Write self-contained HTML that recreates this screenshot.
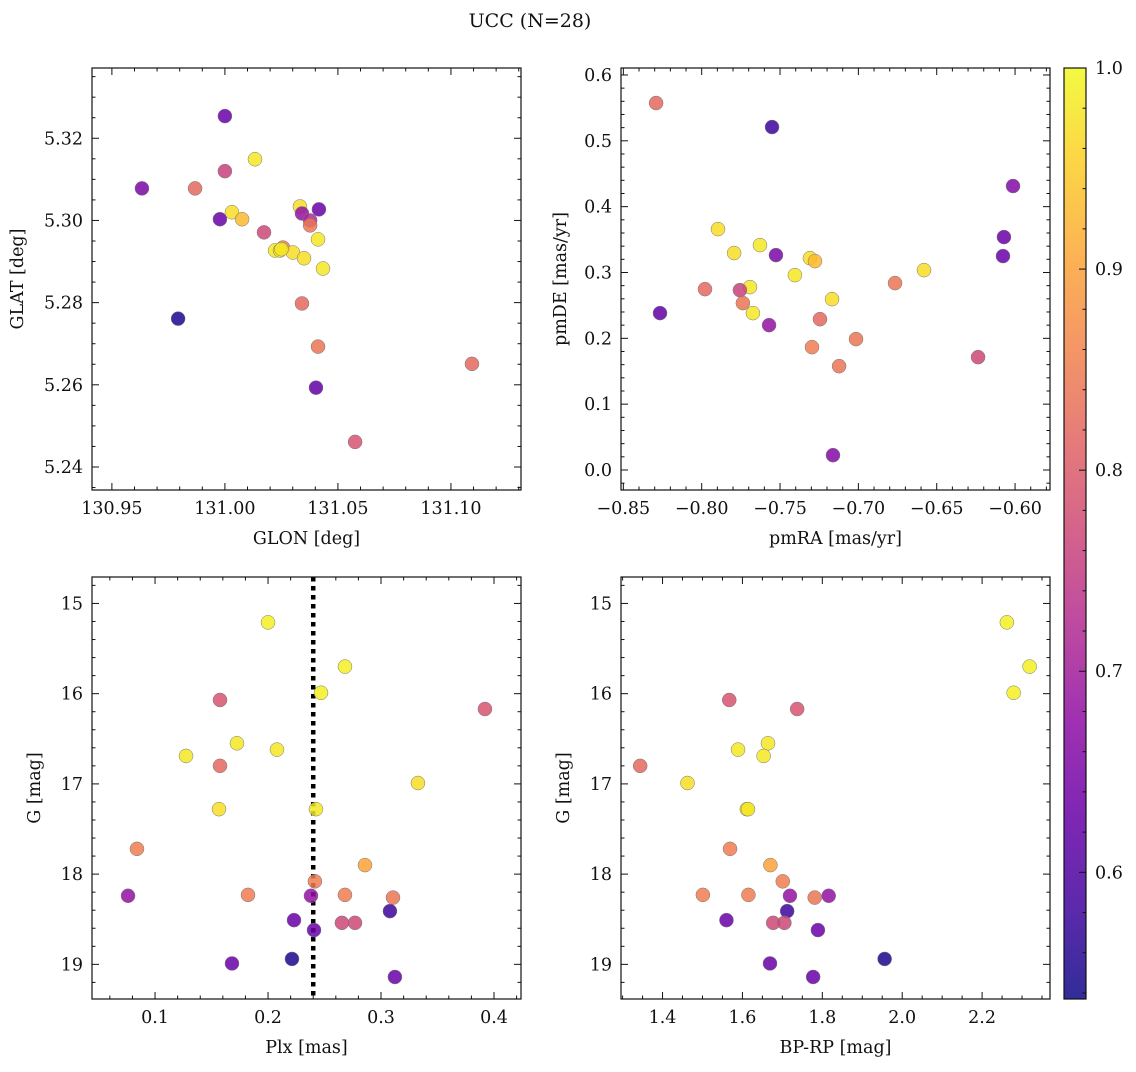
<!DOCTYPE html>
<html><head><meta charset="utf-8"><style>
body{margin:0;background:#fff;width:1136px;height:1067px;overflow:hidden}
svg text{font-family:"DejaVu Serif","Liberation Serif",serif;fill:#111}
</style></head><body>
<svg id="fig" width="1136" height="1067" xmlns="http://www.w3.org/2000/svg">
<text x="530" y="27" font-size="19" text-anchor="middle">UCC (N=28)</text>
</svg>
<script>
// Panel 1: GLON vs GLAT
const glon=[130.9633,131.0000,131.0133,130.9868,131.0000,130.9978,131.0031,131.0076,131.0173,131.0257,131.0222,131.0244,131.0301,131.0332,131.0341,131.0377,131.0377,131.0416,131.0412,131.0350,131.0434,131.0341,130.9793,131.0412,131.0403,131.1093,131.0576,131.0250];
const glat=[5.3078,5.3254,5.3149,5.3078,5.3120,5.3003,5.3020,5.3003,5.2971,5.2934,5.2927,5.2927,5.2922,5.3034,5.3017,5.3000,5.2988,5.3027,5.2954,5.2908,5.2883,5.2798,5.2761,5.2693,5.2593,5.2651,5.2461,5.2930];
const prob1=[0.65,0.63,0.98,0.82,0.76,0.63,0.97,0.93,0.77,0.85,0.98,0.98,0.97,0.97,0.68,0.72,0.84,0.63,0.98,0.97,0.98,0.82,0.55,0.84,0.62,0.82,0.79,0.98];
// Panel 2: pmRA vs pmDE
const pmra=[-0.8291,-0.7551,-0.6013,-0.7896,-0.7628,-0.7793,-0.7526,-0.6071,-0.6077,-0.6581,-0.7309,-0.7277,-0.7405,-0.7692,-0.7979,-0.7756,-0.7737,-0.7168,-0.8266,-0.7673,-0.7570,-0.7245,-0.6766,-0.7015,-0.7296,-0.7123,-0.6236,-0.7162];
const pmde=[0.5574,0.5209,0.4313,0.3659,0.3416,0.3295,0.3264,0.3538,0.3249,0.3036,0.3218,0.3173,0.2960,0.2778,0.2747,0.2732,0.2535,0.2595,0.2383,0.2383,0.2200,0.2291,0.2839,0.1988,0.1866,0.1577,0.1714,0.0225];
const prob2=[0.82,0.58,0.66,0.97,0.98,0.97,0.65,0.63,0.63,0.97,0.97,0.93,0.98,0.98,0.82,0.76,0.84,0.97,0.62,0.98,0.68,0.82,0.84,0.84,0.85,0.84,0.77,0.66];
// Panel 3 & 4 shared
const gmag=[15.21,15.70,15.99,16.07,16.17,16.55,16.62,16.69,16.80,16.99,17.28,17.28,17.72,17.90,18.08,18.23,18.23,18.24,18.24,18.26,18.41,18.51,18.54,18.54,18.62,18.99,18.94,19.14];
const plx=[0.2000,0.2681,0.2469,0.1575,0.3920,0.1725,0.2079,0.1274,0.1575,0.3327,0.1566,0.2424,0.0840,0.2858,0.2415,0.1823,0.2681,0.0761,0.2380,0.3106,0.3079,0.2230,0.2654,0.2770,0.2407,0.1681,0.2212,0.3123];
const prob3=[0.99,0.99,0.99,0.79,0.79,0.98,0.98,0.98,0.82,0.97,0.97,0.98,0.85,0.90,0.85,0.85,0.85,0.68,0.68,0.84,0.58,0.63,0.77,0.77,0.63,0.63,0.55,0.63];
const bprp=[2.262,2.319,2.279,1.567,1.737,1.664,1.589,1.653,1.344,1.4625,1.611,1.614,1.569,1.670,1.701,1.501,1.615,1.719,1.816,1.781,1.712,1.560,1.677,1.705,1.789,1.669,1.956,1.777];
const plxLine=0.24;
const cbTicks=[0.6,0.7,0.8,0.9,1.0];
const vmin=0.537, vmax=1.0;

const NS="http://www.w3.org/2000/svg";
const svg=document.getElementById('fig');
const FS=17.5;
function mk(tag,attrs,parent){const e=document.createElementNS(NS,tag);for(const k in attrs)e.setAttribute(k,attrs[k]);(parent||svg).appendChild(e);return e;}
const stops=[[13,8,135],[65,4,157],[106,0,168],[143,13,164],[177,42,144],[204,71,120],[225,100,98],[242,132,75],[252,166,54],[252,206,37],[240,249,33]];
function plasma(p){let t=(p-vmin)/(vmax-vmin);t=Math.max(0,Math.min(1,t))*10;const i=Math.min(9,Math.floor(t)),f=t-i;const a=stops[i],b=stops[i+1];return `rgb(${Math.round(a[0]+(b[0]-a[0])*f)},${Math.round(a[1]+(b[1]-a[1])*f)},${Math.round(a[2]+(b[2]-a[2])*f)})`;}
function fmt(v,d){const s=v.toFixed(d);return s.startsWith('-')?'\u2212'+s.slice(1):s;}

function panel(o){
  const g=mk('g',{});
  
  
  const L=o.x0,R=o.x1,T=o.y0,B=o.y1;
  const sx=v=>L+(v-o.xmin)/(o.xmax-o.xmin)*(R-L);
  const sy=o.invert? v=>T+(v-o.ymin)/(o.ymax-o.ymin)*(B-T) : v=>B-(v-o.ymin)/(o.ymax-o.ymin)*(B-T);
  const tk=mk('g',{stroke:'#111','stroke-width':1},g);
  
  
  const lo=Math.min(o.xmin,o.xmax),hi=Math.max(o.xmin,o.xmax);
  for(let v=Math.ceil(lo/o.xminor-1e-6)*o.xminor;v<=hi+1e-9;v+=o.xminor){const x=sx(v);if(x<L||x>R)continue;const maj=Math.abs(v/o.xmajor-Math.round(v/o.xmajor))<1e-4;const l=maj?7:3.5;mk('line',{x1:x,x2:x,y1:B,y2:B-l},tk);mk('line',{x1:x,x2:x,y1:T,y2:T+l},tk);}
  const ylo=Math.min(o.ymin,o.ymax),yhi=Math.max(o.ymin,o.ymax);
  for(let v=Math.ceil(ylo/o.yminor-1e-6)*o.yminor;v<=yhi+1e-9;v+=o.yminor){const y=sy(v);if(y<T||y>B)continue;const maj=Math.abs(v/o.ymajor-Math.round(v/o.ymajor))<1e-4;const l=maj?7:3.5;mk('line',{x1:L,x2:L+l,y1:y,y2:y},tk);mk('line',{x1:R,x2:R-l,y1:y,y2:y},tk);}
  o.xticks.forEach(v=>{const t=mk('text',{x:sx(v),y:B+24,'font-size':FS,'text-anchor':'middle'},g);t.textContent=fmt(v,o.xd);});
  o.yticks.forEach(v=>{const t=mk('text',{x:L-9,y:sy(v)+6,'font-size':FS,'text-anchor':'end'},g);t.textContent=fmt(v,o.yd);});
  const xl=mk('text',{x:(L+R)/2,y:B+54,'font-size':FS,'text-anchor':'middle'},g);xl.textContent=o.xlabel;
  
  const yl=mk('text',{x:0,y:0,'font-size':FS,'text-anchor':'middle',transform:`translate(${o.ylx},${(T+B)/2}) rotate(-90)`},g);yl.textContent=o.ylabel;
  
  if(o.vline!==undefined){const ln=mk('line',{x1:sx(o.vline),x2:sx(o.vline),y1:T,y2:B,stroke:'#000','stroke-width':4.5,'stroke-dasharray':'4.5,4.5'},g);}
  o.xs.forEach((v,i)=>{const c=mk('circle',{cx:sx(v),cy:sy(o.ys[i]),r:7,fill:plasma(o.ps[i]),'fill-opacity':0.85,stroke:'#777','stroke-width':0.5},g);});
  const fr=mk('rect',{x:L,y:T,width:R-L,height:B-T,fill:'none',stroke:'#111','stroke-width':1.2},g);
  
}
panel({name:'glon-glat-panel',x0:92,x1:521,y0:68,y1:490,xmin:130.9412,xmax:131.131,ymin:5.2344,ymax:5.3371,xticks:[130.95,131.00,131.05,131.10],xd:2,yticks:[5.24,5.26,5.28,5.30,5.32],yd:2,xmajor:0.05,xminor:0.01,ymajor:0.02,yminor:0.005,xlabel:'GLON [deg]',ylabel:'GLAT [deg]',ylx:23,xs:glon,ys:glat,ps:prob1});
panel({name:'pm-panel',x0:621,x1:1050,y0:68,y1:490,xmin:-0.8515,xmax:-0.5777,ymin:-0.0304,ymax:0.6106,xticks:[-0.85,-0.80,-0.75,-0.70,-0.65,-0.60],xd:2,yticks:[0.0,0.1,0.2,0.3,0.4,0.5,0.6],yd:1,xmajor:0.05,xminor:0.01,ymajor:0.1,yminor:0.02,xlabel:'pmRA [mas/yr]',ylabel:'pmDE [mas/yr]',ylx:566,xs:pmra,ys:pmde,ps:prob2});
panel({name:'plx-g-panel',x0:92,x1:521,y0:577,y1:999,xmin:0.0442,xmax:0.4239,ymin:14.707,ymax:19.384,invert:true,xticks:[0.1,0.2,0.3,0.4],xd:1,yticks:[15,16,17,18,19],yd:0,xmajor:0.1,xminor:0.02,ymajor:1,yminor:0.2,xlabel:'Plx [mas]',ylabel:'G [mag]',ylx:40,xs:plx,ys:gmag,ps:prob3,vline:plxLine});
panel({name:'cmd-panel',x0:621,x1:1050,y0:577,y1:999,xmin:1.296,xmax:2.370,ymin:14.707,ymax:19.384,invert:true,xticks:[1.4,1.6,1.8,2.0,2.2],xd:1,yticks:[15,16,17,18,19],yd:0,xmajor:0.2,xminor:0.05,ymajor:1,yminor:0.2,xlabel:'BP-RP [mag]',ylabel:'G [mag]',ylx:569,xs:bprp,ys:gmag,ps:prob3});

const cb=mk('g',{});


const cT=68,cB=999,cL=1064,cR=1086;
const defs=mk('defs',{},cb);const gr=mk('linearGradient',{id:'pg',x1:0,y1:1,x2:0,y2:0},defs);
for(let i=0;i<=10;i++){mk('stop',{offset:i/10,'stop-color':`rgb(${stops[i].join(',')})`},gr);}
mk('rect',{x:cL,y:cT,width:cR-cL,height:cB-cT,fill:'url(#pg)','fill-opacity':0.85},cb);
mk('rect',{x:cL,y:cT,width:cR-cL,height:cB-cT,fill:'none',stroke:'#111','stroke-width':1.2},cb);
const cy=v=>cB-(v-vmin)/(vmax-vmin)*(cB-cT);
for(let v=0.54;v<=1.0001;v+=0.02){const y=cy(v);const maj=Math.abs(v*10-Math.round(v*10))<1e-4;mk('line',{x1:cR,x2:cR-(maj?7:3.5),y1:y,y2:y,stroke:'#111'},cb);}
cbTicks.forEach(v=>{const t=mk('text',{x:cR+9,y:cy(v)+6,'font-size':FS},cb);t.textContent=v.toFixed(1);});
</script>
</body></html>
